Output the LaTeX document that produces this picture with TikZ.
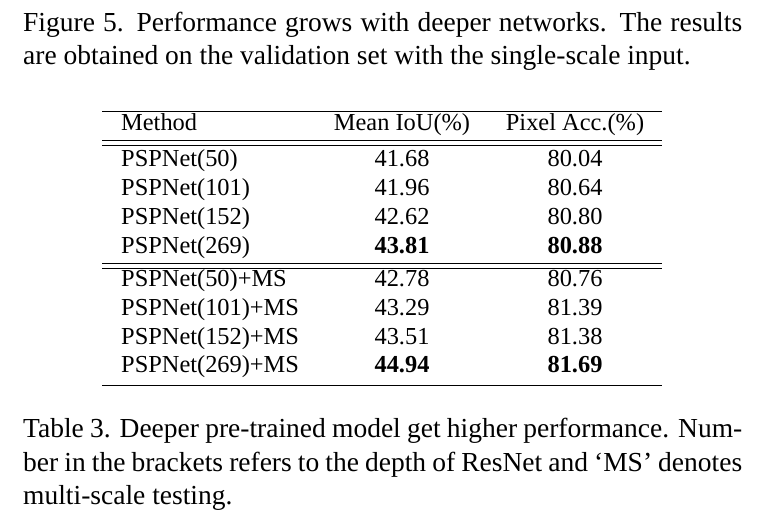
\documentclass[tikz,border=0pt]{standalone}
\usepackage{fontspec}
\setmainfont{Liberation Serif}
\begin{document}
\begin{tikzpicture}[x=1pt,y=-1pt,
  captext/.style={anchor=base west, inner sep=0pt, font=\fontsize{27.5}{32}\selectfont},
  celltext/.style={anchor=base west, inner sep=0pt, font=\fontsize{24.4}{28}\selectfont},
  numtext/.style={anchor=base, inner sep=0pt, font=\fontsize{24.4}{28}\selectfont},
  hrule/.style={line width=1pt, black}]
\useasboundingbox[fill=white] (0,0) rectangle (775,520);
% top caption
\node[captext] (c1) at (23,31) {\makebox[719pt][s]{Figure 5. Performance grows with deeper networks. The results}};
\node[captext] (c2) at (23,64) {are obtained on the validation set with the single-scale input.};
% rules
\coordinate (r1a) at (102,111); \coordinate (r1b) at (662,111);
\coordinate (r2a) at (102,140.7); \coordinate (r2b) at (662,140.7);
\coordinate (r3a) at (102,145); \coordinate (r3b) at (662,145);
\coordinate (r4a) at (102,263.3); \coordinate (r4b) at (662,263.3);
\coordinate (r5a) at (102,268.3); \coordinate (r5b) at (662,268.3);
\coordinate (r6a) at (102,385); \coordinate (r6b) at (662,385);
\draw[hrule] (r1a) -- (r1b);
\draw[hrule] (r2a) -- (r2b);
\draw[hrule] (r3a) -- (r3b);
\draw[hrule, line width=1.4pt] (r4a) -- (r4b);
\draw[hrule, line width=1.4pt] (r5a) -- (r5b);
\draw[hrule] (r6a) -- (r6b);
% header
\node[celltext] (h1) at (121,130.7) {Method};
\node[numtext] (h2) at (402,130.7) {Mean IoU(\%)};
\node[numtext] (h3) at (575,130.7) {Pixel Acc.(\%)};
% rows
\node[celltext] (m1) at (121,166.7) {PSPNet(50)};
\node[numtext] (a1) at (402,166.7) {41.68};
\node[numtext] (b1) at (575,166.7) {80.04};
\node[celltext] (m2) at (121,195.6) {PSPNet(101)};
\node[numtext] (a2) at (402,195.6) {41.96};
\node[numtext] (b2) at (575,195.6) {80.64};
\node[celltext] (m3) at (121,224.4) {PSPNet(152)};
\node[numtext] (a3) at (402,224.4) {42.62};
\node[numtext] (b3) at (575,224.4) {80.80};
\node[celltext] (m4) at (121,253.2) {PSPNet(269)};
\node[numtext] (a4) at (402,253.2) {\textbf{43.81}};
\node[numtext] (b4) at (575,253.2) {\textbf{80.88}};
\node[celltext] (m5) at (121,286.7) {PSPNet(50)+MS};
\node[numtext] (a5) at (402,286.7) {42.78};
\node[numtext] (b5) at (575,286.7) {80.76};
\node[celltext] (m6) at (121,315.5) {PSPNet(101)+MS};
\node[numtext] (a6) at (402,315.5) {43.29};
\node[numtext] (b6) at (575,315.5) {81.39};
\node[celltext] (m7) at (121,344.2) {PSPNet(152)+MS};
\node[numtext] (a7) at (402,344.2) {43.51};
\node[numtext] (b7) at (575,344.2) {81.38};
\node[celltext] (m8) at (121,372.6) {PSPNet(269)+MS};
\node[numtext] (a8) at (402,372.6) {\textbf{44.94}};
\node[numtext] (b8) at (575,372.6) {\textbf{81.69}};
% bottom caption
\node[captext] (t1) at (23,437) {\makebox[719pt][s]{Table 3. Deeper pre-trained model get higher performance. Num-}};
\node[captext] (t2) at (23,471) {\makebox[719pt][s]{ber in the brackets refers to the depth of ResNet and ‘MS’ denotes}};
\node[captext] (t3) at (23,504) {multi-scale testing.};
\end{tikzpicture}
\end{document}
